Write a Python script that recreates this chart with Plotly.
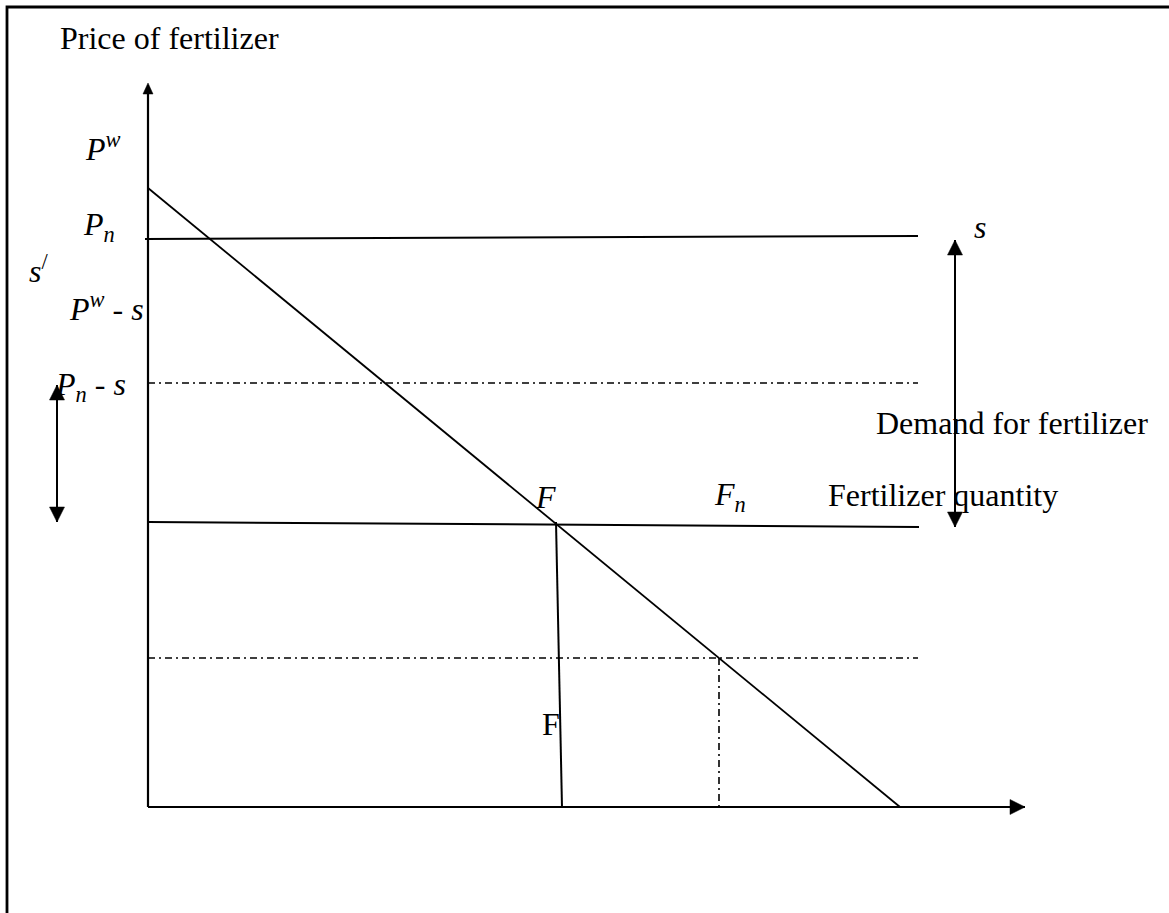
import math
import plotly.graph_objects as go

# ---- coordinate frame: quantity (x) and price (y), origin at axes corner ----
# Demand curve
demand_q = [0, 752]
demand_p = [619, 0]

# Horizontal price lines (quantity span, price at left/right end)
pn_q = [-3, 770]
pn_p = [568, 571]

pns_q = [0, 770]
pns_p = [424, 424]

pf_q = [0, 771]
pf_p = [285, 280]

pws_q = [0, 770]
pws_p = [149, 149]

# Vertical lines
fvert_q = [408, 414]
fvert_p = [285, 0]

fnvert_q = [571, 571]
fnvert_p = [149, 0]

# Axes (arrow tips)
yaxis_q = [0, 0]
yaxis_p = [0, 724]
xaxis_q = [0, 877]
xaxis_p = [0, 0]

# Double-headed arrows
left_arrow_q = [-91, -91]
left_arrow_p = [422, 285]
right_arrow_q = [807, 807]
right_arrow_p = [567, 280]

# Border frame
frame_q = [1021, -141, -141]
frame_p = [800, 800, -106]

# Labels: text, x, y, anchor
label_text = ["Price of fertilizer", "<i>P</i><sup><i>w</i></sup>", "<i>P<sub>n</sub></i>",
              "<i>s</i><sup>/</sup>", "<i>P</i><sup><i>w</i></sup> - <i>s</i>",
              "<i>P<sub>n</sub></i> - <i>s</i>", "<i>s</i>", "Demand for fertilizer",
              "<i>F</i>", "<i>F<sub>n</sub></i>", "Fertilizer quantity", "F"]
label_q = [-90, -65, -67, -121, -81, -95, 824, 726, 385, 564, 912, 392]
label_p = [769.5, 660.5, 580.5, 538.5, 500.5, 420.5, 580.5, 384.5, 310.5, 310.5, 312.5, 83.5]
label_anchor = ["left"] * 10 + ["right", "left"]

FONT = "Liberation Serif, Times New Roman, serif"
BLACK = "#000000"

fig = go.Figure()


def add_line(q, p, width=2.0, dash="solid"):
    fig.add_trace(go.Scatter(x=q, y=p, mode="lines",
                             line=dict(color=BLACK, width=width, dash=dash),
                             hoverinfo="skip", showlegend=False))


def add_head(q, p, tip_index, length=15, width=15):
    # arrowhead polygon at the tip point of segment q,p
    t = tip_index
    o = 1 - t
    dx = q[t] - q[o]
    dy = p[t] - p[o]
    n = math.hypot(dx, dy)
    ux, uy = dx / n, dy / n
    px_, py_ = -uy, ux
    bx, by = q[t] - ux * length, p[t] - uy * length
    xs = [q[t], bx + px_ * width / 2, bx - px_ * width / 2, q[t]]
    ys = [p[t], by + py_ * width / 2, by - py_ * width / 2, p[t]]
    fig.add_trace(go.Scatter(x=xs, y=ys, mode="lines", fill="toself",
                             fillcolor=BLACK, line=dict(color=BLACK, width=0.5),
                             hoverinfo="skip", showlegend=False))


DASHDOT = "7px,4px,2px,4px"

# frame
add_line(frame_q, frame_p, width=2.8)

# axes
add_line(yaxis_q, [0, yaxis_p[1] - 8], width=2.2)
add_head(yaxis_q, yaxis_p, 1, length=11, width=10)
add_line(xaxis_q, [0, 0], width=2.2)
add_head(xaxis_q, xaxis_p, 1, length=15, width=15)

# price lines
add_line(pn_q, pn_p, width=2.0)
add_line(pns_q, pns_p, width=1.6, dash=DASHDOT)
add_line(pf_q, pf_p, width=2.0)
add_line(pws_q, pws_p, width=1.6, dash=DASHDOT)

# vertical lines
add_line(fvert_q, fvert_p, width=2.0)
add_line(fnvert_q, fnvert_p, width=1.6, dash=DASHDOT)

# demand
add_line(demand_q, demand_p, width=1.8)

# double arrows
add_line(left_arrow_q, left_arrow_p, width=2.0)
add_head(left_arrow_q, left_arrow_p, 0)
add_head(left_arrow_q, left_arrow_p, 1)
add_line(right_arrow_q, right_arrow_p, width=2.0)
add_head(right_arrow_q, right_arrow_p, 0)
add_head(right_arrow_q, right_arrow_p, 1)

for t, q, p, a in zip(label_text, label_q, label_p, label_anchor):
    fig.add_annotation(x=q, y=p, xref="x", yref="y", text=t, showarrow=False,
                       xanchor=a, yanchor="middle",
                       font=dict(family=FONT, size=32, color=BLACK))

fig.update_layout(
    width=1169, height=913,
    margin=dict(l=0, r=0, t=0, b=0),
    paper_bgcolor="white", plot_bgcolor="white",
    xaxis=dict(range=[-148, 1021], visible=False, fixedrange=True),
    yaxis=dict(range=[-106, 807], visible=False, fixedrange=True),
    showlegend=False,
)

fig.write_html("out.html", config={"displayModeBar": False},
               post_script="document.body.style.margin='0';")
